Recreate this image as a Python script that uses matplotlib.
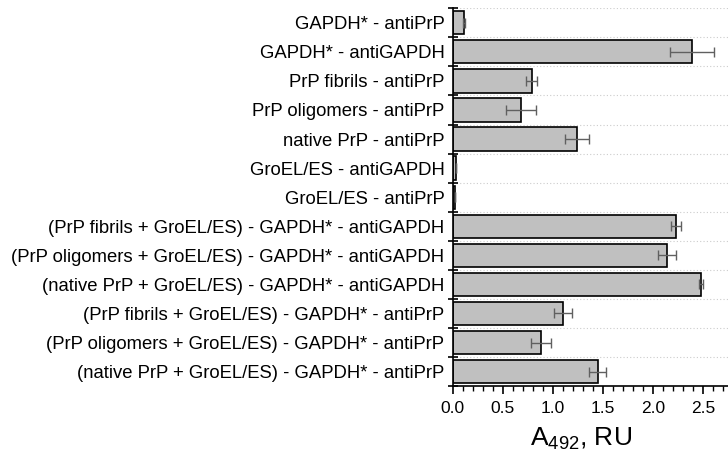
import numpy as np
import matplotlib
matplotlib.use("Agg")
from matplotlib import pyplot as plt
from matplotlib.ticker import MultipleLocator, FormatStrFormatter

plt.rcParams["font.family"] = ["Liberation Sans", "DejaVu Sans"]
plt.rcParams["mathtext.fontset"] = "custom"
plt.rcParams["mathtext.rm"] = "Liberation Sans"
plt.rcParams["mathtext.it"] = "Liberation Sans:italic"

# --- data (top to bottom)
labels = [
    "GAPDH* - antiPrP",
    "GAPDH* - antiGAPDH",
    "PrP fibrils - antiPrP",
    "PrP oligomers - antiPrP",
    "native PrP - antiPrP",
    "GroEL/ES - antiGAPDH",
    "GroEL/ES - antiPrP",
    "(PrP fibrils + GroEL/ES) - GAPDH* - antiGAPDH",
    "(PrP oligomers + GroEL/ES) - GAPDH* - antiGAPDH",
    "(native PrP + GroEL/ES) - GAPDH* - antiGAPDH",
    "(PrP fibrils + GroEL/ES) - GAPDH* - antiPrP",
    "(PrP oligomers + GroEL/ES) - GAPDH* - antiPrP",
    "(native PrP + GroEL/ES) - GAPDH* - antiPrP",
]
values = [0.11, 2.39, 0.79, 0.68, 1.24, 0.03, 0.02, 2.23, 2.14, 2.48, 1.10, 0.88, 1.45]
errors = [0.01, 0.22, 0.055, 0.15, 0.12, 0.0, 0.0, 0.05, 0.09, 0.02, 0.09, 0.10, 0.085]

fig = plt.figure(figsize=(7.28, 4.57), dpi=100)
ax = fig.add_axes([0.622, 0.155, 0.378, 0.827])

y = np.arange(len(labels))

# --- bars + error bars
ax.barh(y, values, height=0.8, color="#c0c0c0", edgecolor="black", linewidth=1.2, zorder=2)
ax.errorbar(values, y, xerr=errors, fmt="none", ecolor="#606060", elinewidth=1,
            capsize=3.5, capthick=1, zorder=3)

ax.set_ylim(len(labels) - 0.5, -0.5)
ax.set_xlim(0, 2.75)

# --- y axis: labels at bar centres, ticks at boundaries
ax.set_yticks(y)
ax.set_yticklabels(labels, fontsize=13.3)
ax.set_yticks(np.arange(len(labels) + 1) - 0.5, minor=True)
ax.tick_params(axis="y", which="major", length=0, pad=6)
ax.tick_params(axis="y", which="minor", direction="inout", length=7, width=1.2)

# faint dotted grid at boundaries
for b in np.arange(len(labels) + 1) - 0.5:
    ax.axhline(b, color="#cccccc", linestyle=(0, (1, 2)), linewidth=0.8, zorder=1)

# --- x axis
ax.xaxis.set_major_locator(MultipleLocator(0.5))
ax.xaxis.set_minor_locator(MultipleLocator(0.1))
ax.xaxis.set_major_formatter(FormatStrFormatter("%.1f"))
ax.tick_params(axis="x", which="major", direction="out", length=6, width=1.2,
               labelsize=12.5, pad=5)
ax.tick_params(axis="x", which="minor", direction="out", length=3.5, width=1)
ax.set_xlabel(r"$\mathregular{A_{492}}$, RU", fontsize=19)
ax.xaxis.set_label_coords(0.465, -0.105)

for s in ["top", "right"]:
    ax.spines[s].set_visible(False)
for s in ["left", "bottom"]:
    ax.spines[s].set_linewidth(1.2)

fig.savefig("out.png", dpi=100)
